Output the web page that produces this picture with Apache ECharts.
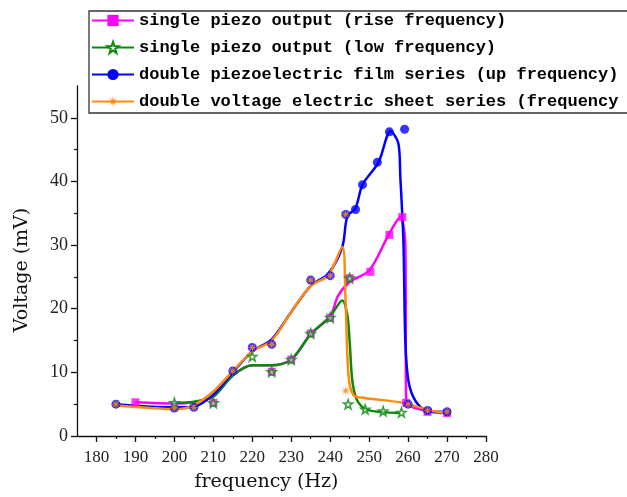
<!DOCTYPE html>
<html><head><meta charset="utf-8">
<script src="https://cdn.jsdelivr.net/npm/echarts@6/dist/echarts.min.js"></script>
<style>html,body{margin:0;padding:0;background:#fff}#c{width:627px;height:497px}</style>
</head><body><div id="c"></div>
<script>
const seriesNames = [
  'single piezo output (rise frequency)',
  'single piezo output (low frequency)',
  'double piezoelectric film series (up frequency)',
  'double voltage electric sheet series (frequency'
];
const freqTicks = [180,190,200,210,220,230,240,250,260,270,280];
const freqMinorTicks = [185,195,205,215,225,235,245,255,265,275];
const voltTicks = [0,10,20,30,40,50];
const voltMinorTicks = [5,15,25,35,45];

// smoothed curves
const riseLine = [[190,5.3],[200,5.1],[205,5.3],[210,6.2],[215,9.5],[220,11.1],[225,11.1],[230,12],[235,16],[240,18.8],[242,22],[245,24.2],[250,26],[255,31.6],[258,34.4],[259.3,30],[259.5,5.5],[265,3.9],[270,3.6]];
const lowLine = [[200,5.2],[205,5.4],[210,6.2],[215,9.5],[220,11.1],[225,11.1],[230,12],[235,16],[240,18.8],[243.1,21.3],[244.4,19],[245,14.8],[245.7,8.6],[247,5.5],[249.5,4.1],[258,3.6]];
const upLine = [[185,5],[200,4.5],[205,4.6],[210,6.5],[215,10],[220,13.3],[225,15.2],[230,19.5],[235,23.6],[239.5,25.5],[243.1,29.7],[244.4,34.5],[246.5,35.8],[248.3,39.5],[252.4,43],[255.5,47.9],[257.5,46],[258,40.8],[258.8,30.5],[259.3,14.8],[260.1,8.6],[261.9,5.5],[265,3.9],[270,3.8]];
const downLine = [[185,4.8],[194,4.4],[200,4.2],[204.5,4.7],[210,7],[215,10.2],[220,13.3],[225,15],[230,19.5],[235,23.6],[239.5,25.2],[243.1,29.7],[243.9,22],[244.7,9.5],[246,6.4],[248.5,6],[258.8,5.2],[265.7,4],[271,3.6]];

// measured points (markers)
const riseMarks = [[190,5.3],[210,5.2],[225,10.1],[230,12],[235,16.1],[240,18.6],[245,24.8],[250.3,25.8],[255.2,31.6],[258.5,34.4],[259.5,5.2],[265,3.8],[270,3.6]];
const lowMarks = [[200,5.2],[210,5.2],[220,12.5],[225,10.1],[230,12],[235,16.1],[240,18.6],[245,24.8],[244.6,5],[249,4.2],[253.6,3.9],[258.3,3.7]];
const upMarks = [[185,5],[200,4.4],[205,4.5],[215,10.2],[220,13.9],[225,14.4],[235,24.5],[240,25.2],[244,34.8],[246.5,35.6],[248.3,39.5],[252.1,43],[255.2,47.8],[259.1,48.2],[260,5],[265,4],[270,3.8]];
const downMarks = [[185,5],[200,4.4],[205,4.5],[215,10.2],[220,13.9],[225,14.4],[235,24.5],[240,25.2],[244,34.8],[244,7.1],[260,5],[265,4],[270,3.8]];

const colors = ['#ff00ff','#0a8a0a','#0000ff','#ff8a10'];
const starPath = 'path://M10 0L12.35 6.76L19.51 6.91L13.8 11.24L15.88 18.09L10 14L4.12 18.09L6.2 11.24L0.49 6.91L7.65 6.76Z';
const asteriskPath = 'path://M20 10L12.77 11.15L17.07 17.07L11.15 12.77L10 20L8.85 12.77L2.93 17.07L7.23 11.15L0 10L7.23 8.85L2.93 2.93L8.85 7.23L10 0L11.15 7.23L17.07 2.93L12.77 8.85Z';
const symbols = ['rect', starPath, 'circle', asteriskPath];
const lines = [riseLine, lowLine, upLine, downLine];
const marks = [riseMarks, lowMarks, upMarks, downMarks];

const chart = echarts.init(document.getElementById('c'), null, {renderer: 'canvas'});
const serif = 'Liberation Serif';
const titleFont = 'DejaVu Serif';

function lineSeries(i, z) {
  const open = i === 1;
  return {
    name: seriesNames[i], type: 'line', data: lines[i], xAxisIndex: 0, yAxisIndex: 0,
    smooth: 0.3, showSymbol: false,
    symbol: symbols[i], symbolSize: i === 3 ? 12 : 10,
    lineStyle: {color: colors[i], width: 2.5},
    itemStyle: open ? {color: '#fff', borderColor: colors[i], borderWidth: 1.5} : {color: colors[i]},
    z: z, animation: false
  };
}
function markSeries(i, z, size) {
  const open = i === 1;
  return {
    name: seriesNames[i], type: 'scatter', data: marks[i], xAxisIndex: 0, yAxisIndex: 0,
    symbol: symbols[i], symbolSize: size,
    itemStyle: open ? {color: 'rgba(255,255,255,0.6)', borderColor: colors[i], borderWidth: 1.6} : {color: colors[i]},
    z: z, animation: false
  };
}

const option = {
  backgroundColor: '#fff',
  animation: false,
  grid: {left: 77, right: 141, top: 86, bottom: 59, containLabel: false},
  legend: {
    data: seriesNames, orient: 'vertical', left: 91, top: 12, padding: 0,
    itemWidth: 42, itemHeight: 14, itemGap: 10, selectedMode: false,
    textStyle: {fontFamily: 'Liberation Mono', fontWeight: 'bold', fontSize: 17, color: '#000', lineHeight: 16}
  },
  graphic: [{
    type: 'rect', shape: {x: 89, y: 11, width: 620, height: 102},
    style: {fill: 'none', stroke: '#333', lineWidth: 1.3}, z: 10
  }],
  xAxis: [{
    type: 'value', min: 175, max: 280, position: 'bottom',
    name: 'frequency (Hz)', nameLocation: 'middle', nameGap: 37,
    nameTextStyle: {fontFamily: titleFont, fontSize: 19, color: '#111', padding: [0, 30, 0, 0]},
    axisLine: {show: true, onZero: false, lineStyle: {color: '#111', width: 1.3}},
    axisTick: {show: true, inside: false, length: 6, customValues: freqTicks, lineStyle: {color: '#111', width: 1.3}},
    axisLabel: {customValues: freqTicks, fontFamily: serif, fontSize: 17, color: '#222', margin: 13},
    splitLine: {show: false}
  }, {
    type: 'value', min: 175, max: 280, position: 'bottom', offset: 0,
    axisLine: {show: false},
    axisTick: {show: true, inside: false, length: 3, customValues: freqMinorTicks, lineStyle: {color: '#111', width: 1.2}},
    axisLabel: {show: false}, splitLine: {show: false}
  }],
  yAxis: [{
    type: 'value', min: 0, max: 55, position: 'left',
    name: 'Voltage (mV)', nameLocation: 'middle', nameGap: 45,
    nameTextStyle: {fontFamily: titleFont, fontSize: 19, color: '#111', padding: [0, 18, 0, 0]},
    axisLine: {show: true, onZero: false, lineStyle: {color: '#111', width: 1.3}},
    axisTick: {show: true, inside: false, length: 6, customValues: voltTicks, lineStyle: {color: '#111', width: 1.3}},
    axisLabel: {customValues: voltTicks, fontFamily: serif, fontSize: 18, color: '#222', margin: 9},
    splitLine: {show: false}
  }, {
    type: 'value', min: 0, max: 55, position: 'left', offset: 0,
    axisLine: {show: false},
    axisTick: {show: true, inside: false, length: 3, customValues: voltMinorTicks, lineStyle: {color: '#111', width: 1.2}},
    axisLabel: {show: false}, splitLine: {show: false}
  }],
  series: [
    lineSeries(0, 2), lineSeries(1, 3), lineSeries(2, 4), lineSeries(3, 5),
    markSeries(0, 6, 8), markSeries(2, 6, 9), markSeries(1, 7, 9), markSeries(3, 7, 11)
  ]
};
chart.setOption(option);
</script>
</body></html>
